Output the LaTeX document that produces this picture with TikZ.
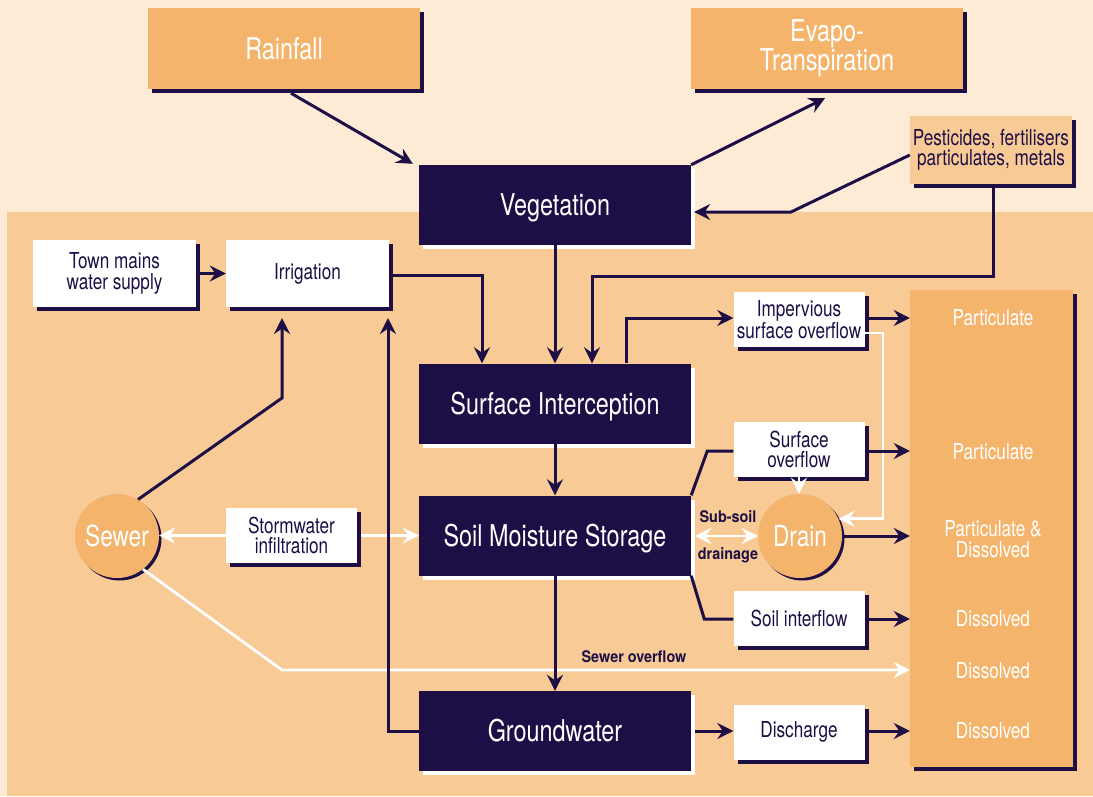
\documentclass[tikz,border=0pt]{standalone}
\usepackage{fontspec}
\setmainfont{TeX Gyre Heros}[FakeStretch=0.78]
\newfontfamily\tagfont{TeX Gyre Heros}[FakeStretch=0.9]
\usetikzlibrary{arrows.meta,shadows,calc}
\definecolor{navy}{RGB}{29,15,70}
\definecolor{paper}{RGB}{253,235,214}
\definecolor{sand}{RGB}{248,202,150}
\definecolor{apricot}{RGB}{244,180,108}

\tikzset{
  big/.style={font=\fontsize{30}{29}\selectfont},
  small/.style={font=\fontsize{22}{20.5}\selectfont},
  box/.style={rectangle, inner sep=0pt, align=center},
  darkshadow/.style={drop shadow={shadow xshift=4pt, shadow yshift=-4pt, fill=navy, opacity=1}},
  lightshadow/.style={drop shadow={shadow xshift=4pt, shadow yshift=-4pt, fill=white, opacity=1}},
  sourcebox/.style={box, big, fill=apricot, text=white, darkshadow, minimum width=272pt, minimum height=81pt},
  storebox/.style={box, big, fill=navy, text=white, lightshadow, minimum width=272pt, minimum height=80pt,
    text height=21.6pt, text depth=0pt},
  pathbox/.style={box, small, fill=white, text=navy, darkshadow, minimum width=131pt, minimum height=55pt},
  feedbox/.style={box, small, fill=white, text=navy, darkshadow, minimum width=163pt, minimum height=67pt},
  pit/.style={circle, inner sep=0pt, minimum size=84pt, fill=apricot, text=white,
    font=\fontsize{29}{29}\selectfont,
    drop shadow={shadow xshift=2.5pt, shadow yshift=-2.5pt, fill=navy, opacity=1}},
  outlabel/.style={small, text=white, align=center},
  head/.tip={Stealth[length=16pt,width=16pt,inset=5.5pt]},
  flow/.style={navy, line width=3pt, -head},
  wflow/.style={white, line width=2.8pt, -head},
  link/.style={navy, line width=3pt},
  tag/.style={font=\tagfont\bfseries\fontsize{16}{16}\selectfont, text=navy},
}

\begin{document}
\begin{tikzpicture}[x=1pt,y=-1pt]
\useasboundingbox (0,0) rectangle (1093,796);
% backdrop: open air above, catchment below
\fill[paper] (0,0) rectangle (1093,796);
\fill[sand] (7,212) rectangle (1093,796);

% inputs and outputs to the atmosphere
\node[sourcebox] (rain) at (284,48.5) {Rainfall};
\node[sourcebox] (evap) at (827,48.5) {Evapo-\\Transpiration};
\node[box, small, fill=sand, text=navy, darkshadow, minimum width=162pt, minimum height=68pt]
  (pest) at (991,150) {Pesticides, fertilisers\\particulates, metals};

% storages
\node[storebox] (veg) at (555,205) {Vegetation};
\node[storebox] (si)  at (555,403.5) {Surface Interception};
\node[storebox] (sms) at (555,535.5) {Soil Moisture Storage};
\node[storebox] (gw)  at (555,731) {Groundwater};

% supply side
\node[feedbox] (town) at (114.5,273.5) {Town mains\\water supply};
\node[feedbox] (irr)  at (307.5,273.5) {Irrigation};
\node[pathbox] (storm) at (291.5,535.5) {Stormwater\\infiltration};

% pathways to receiving waters
\node[pathbox] (imp)   at (799,319.5) {Impervious\\surface overflow};
\node[pathbox] (surf)  at (799,449.5) {Surface\\overflow};
\node[pathbox] (inter) at (799,618) {Soil interflow};
\node[pathbox] (dis)   at (799,732) {Discharge};

% receiving column
\node[box, fill=apricot, darkshadow, minimum width=163pt, minimum height=477pt] (col) at (991.5,528.5) {};
\node[outlabel] (o1) at (993,318) {Particulate};
\node[outlabel] (o2) at (993,452) {Particulate};
\node[outlabel] (o3) at (993,539) {Particulate \&\\Dissolved};
\node[outlabel] (o4) at (993,619) {Dissolved};
\node[outlabel] (o5) at (993,671) {Dissolved};
\node[outlabel] (o6) at (993,731) {Dissolved};

% sewer and drain
\node[pit] (sewer) at (117,536) {Sewer};
\node[pit] (drain) at (800,536) {Drain};

% white flows
\coordinate (obend) at (282,670);
\draw[wflow] (sewer.-52) -- (obend) -- (obend -| col.west);
\draw[wflow] (storm.west) -- (sewer.east |- storm.west);
\draw[wflow] ($(storm.east)+(4,0)$) -- (sms.west |- storm.east);
\coordinate (wdown) at (883,0);
\draw[wflow] ($(imp.east)+(0,13.5)$) -| (wdown |- drain.24) -- (drain.24);
\draw[wflow] (surf.south) -- (surf.south |- drain.north);
\draw[white, line width=2.8pt, head-head]
  ($(sms.east)+(4,0.5)$) -- (drain.west);

% navy flows
\draw[flow] ($(rain.south)+(7,4)$) -- ($(veg.north west)+(-6,-1)$);
\draw[flow] (veg.north east) -- ($(evap.south)+(-2,9)$);
\coordinate (pbend) at (791,212);
\draw[flow] ($(pest.west)+(0,5)$) -- (pbend) -- ($(veg.east)+(3,7)$);
\coordinate (pdrop) at (592,276);
\draw[flow] ($(pest.south)+(2,0)$) |- (pdrop) -- (pdrop |- si.north);
\coordinate (ibend) at (482,0);
\draw[flow] ($(irr.east)+(0,1.5)$) -| (ibend |- si.north);
\draw[flow] (town.east) -- (irr.west);
\draw[flow] (veg.south) -- (si.north);
\draw[flow] (si.south) -- (sms.north);
\draw[flow] (sms.south) -- (gw.north);
\coordinate (gup) at (388,318);
\draw[flow] (gw.west) -| (gup);
\coordinate (skink) at (282,398);
\draw[flow] (sewer.60) -- (skink) -- (skink |- gup);
\coordinate (kup) at (626,0);
\draw[flow] (kup |- si.north) |- ($(imp.west)+(0,-1.5)$);
\draw[flow] ($(imp.east)+(0,-1.5)$) -- ($(imp.east -| col.west)+(0,-1.5)$);
\draw[link] (sms.north east) -- ($(surf.west)+(-26,1.5)$) -- ($(surf.west)+(0,1.5)$);
\draw[flow] ($(surf.east)+(0,1.5)$) -- ($(surf.east -| col.west)+(0,1.5)$);
\draw[flow] (drain.east) -- (drain.east -| col.west);
\draw[link] (sms.south east) -- ($(inter.west)+(-29,1)$) -- ($(inter.west)+(0,1)$);
\draw[flow] ($(inter.east)+(0,1)$) -- ($(inter.east -| col.west)+(0,1)$);
\draw[flow] ($(gw.east)+(4,0)$) -- (gw.east -| dis.west);
\draw[flow] ($(dis.east)+(0,-1)$) -- ($(dis.east -| col.west)+(0,-1)$);

% flow labels
\node[tag] (sstag) at (728,517) {Sub-soil};
\node[tag] (drtag) at (728,555) {drainage};
\node[tag] (sotag) at (634,657) {Sewer overflow};
\end{tikzpicture}
\end{document}
